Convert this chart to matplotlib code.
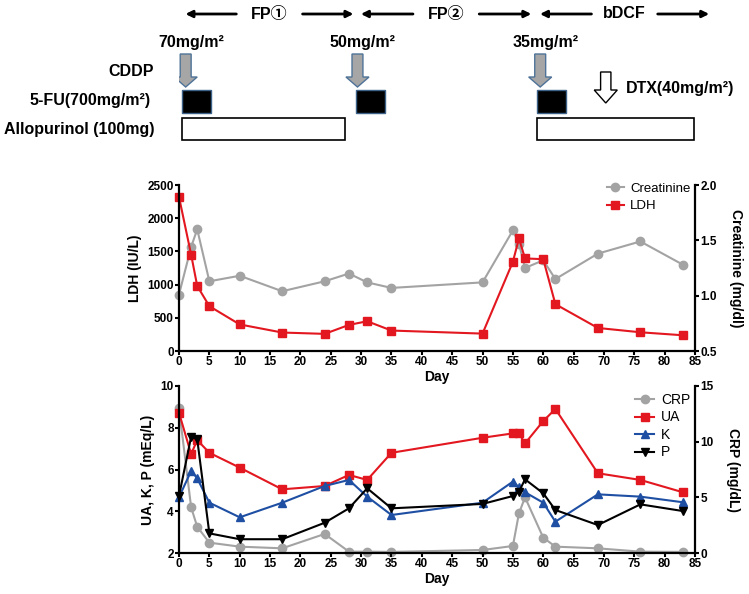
import matplotlib
matplotlib.use("Agg")
import matplotlib.pyplot as plt
import matplotlib.patches as patches
from matplotlib.lines import Line2D

plt.rcParams['font.family'] = ['Liberation Sans', 'Noto Sans CJK JP', 'DejaVu Sans']

# ---- data ----
ldh_days = [0, 2, 3, 5, 10, 17, 24, 28, 31, 35, 50, 55, 56, 57, 60, 62, 69, 76, 83]
ldh = [2320, 1450, 980, 675, 400, 278, 258, 393, 448, 308, 262, 1343, 1696, 1394, 1383, 705, 347, 282, 237]

cre_days = [0, 2, 3, 5, 10, 17, 24, 28, 31, 35, 50, 55, 56, 57, 60, 62, 69, 76, 83]
cre = [1.01, 1.44, 1.60, 1.13, 1.18, 1.04, 1.13, 1.20, 1.12, 1.07, 1.12, 1.59, 1.47, 1.25, 1.32, 1.15, 1.38, 1.49, 1.28]

lab_days = [0, 2, 3, 5, 10, 17, 24, 28, 31, 35, 50, 55, 56, 57, 60, 62, 69, 76, 83]
ua = [8.72, 6.74, 7.41, 6.80, 6.09, 5.05, 5.21, 5.74, 5.50, 6.80, 7.52, 7.73, 7.73, 7.25, 8.32, 8.90, 5.82, 5.50, 4.91]
k = [4.67, 5.93, 5.58, 4.41, 3.71, 4.41, 5.21, 5.50, 4.70, 3.82, 4.41, 5.42, 5.15, 4.91, 4.41, 3.50, 4.81, 4.70, 4.43]
p = [4.73, 7.57, 7.45, 2.94, 2.66, 2.66, 3.45, 4.14, 5.10, 4.14, 4.35, 4.73, 4.94, 5.53, 4.86, 4.06, 3.34, 4.33, 4.01]
crp = [13.0, 4.10, 2.36, 0.93, 0.57, 0.42, 1.71, 0.12, 0.12, 0.10, 0.27, 0.63, 3.56, 5.0, 1.38, 0.57, 0.42, 0.12, 0.10]

# treatment schedule (days)
phases = ['FP①', 'FP②', 'bDCF']
phase_spans = [(0.6, 29.2), (29.5, 58.5), (59.0, 87.8)]
cddp_days = [1.1, 29.4, 59.5]
cddp_doses = ['70mg/m²', '50mg/m²', '35mg/m²']
fu_starts = [0.45, 29.2, 59.0]
fu_len = 4.8
allo_spans = [(0.45, 27.4), (59.0, 84.8)]
dtx_day = 70.3

RED = '#e3171f'
BLUE = '#1f4fa3'
GRAY = '#a3a3a3'
W, H = 749, 594

fig = plt.figure(figsize=(W / 100, H / 100), dpi=100)


def ax_rect(x0, y0, x1, y1):
    return [x0 / W, 1 - y1 / H, (x1 - x0) / W, (y1 - y0) / H]


def style_axes(ax, ax2):
    for a in (ax, ax2):
        a.spines['top'].set_visible(False)
        for s in a.spines.values():
            s.set_linewidth(1.6)
        a.tick_params(direction='out', width=1.5, length=3, labelsize=8.5, pad=0.8)
        for lab in a.get_xticklabels() + a.get_yticklabels():
            lab.set_fontweight('bold')
    ax.spines['right'].set_visible(False)
    ax2.spines['left'].set_visible(False)
    ax2.spines['bottom'].set_visible(False)
    ax.set_xlim(0, 85)
    ax.set_xticks(range(0, 86, 5))
    ax.set_xlabel('Day', fontsize=10, fontweight='bold', labelpad=1)


# ---- schematic ----
sch = fig.add_axes(ax_rect(179, 0, 695, 150))
sch.set_xlim(0, 85)
sch.set_ylim(150, 0)
sch.axis('off')
fs = 11.5
for name, (a, b) in zip(phases, phase_spans):
    mid = (a + b) / 2
    sch.text(mid, 14, name, ha='center', va='center', fontsize=fs, fontweight='bold')
    gap = 5
    sch.annotate('', xy=(a, 14), xytext=(mid - gap, 14),
                 arrowprops=dict(arrowstyle='-|>', color='black', lw=2, mutation_scale=10),
                 annotation_clip=False)
    sch.annotate('', xy=(b, 14), xytext=(mid + gap, 14),
                 arrowprops=dict(arrowstyle='-|>', color='black', lw=2, mutation_scale=10),
                 annotation_clip=False)

for d, dose in zip(cddp_days, cddp_doses):
    sch.text(d + 0.9, 42, dose, ha='center', va='center', fontsize=fs, fontweight='bold')
    arr = patches.FancyArrow(d, 54, 0, 33, width=1.8, head_width=3.8, head_length=10,
                             length_includes_head=True, facecolor='#a6a6a6',
                             edgecolor='#4f7398', lw=1)
    sch.add_patch(arr)

for s in fu_starts:
    sch.add_patch(patches.Rectangle((s, 90), fu_len, 23, facecolor='black',
                                    edgecolor='#3d6188', lw=1))
for a, b in allo_spans:
    sch.add_patch(patches.Rectangle((a, 117.5), b - a, 22, facecolor='white',
                                    edgecolor='black', lw=1.2))

dtx = patches.FancyArrow(dtx_day, 72, 0, 31, width=1.7, head_width=3.8, head_length=13,
                         length_includes_head=True, facecolor='white', edgecolor='black', lw=1)
sch.add_patch(dtx)
sch.text(dtx_day + 3.3, 88, 'DTX(40mg/m²)', ha='left', va='center', fontsize=fs,
         fontweight='bold', clip_on=False)

sch.text(-4.1, 72, 'CDDP', ha='right', va='center', fontsize=fs, fontweight='bold', clip_on=False)
sch.text(-4.6, 100, '5-FU(700mg/m²)', ha='right', va='center', fontsize=fs, fontweight='bold', clip_on=False)
sch.text(-4.0, 129, 'Allopurinol (100mg)', ha='right', va='center', fontsize=fs, fontweight='bold', clip_on=False)

# ---- upper chart: LDH / creatinine ----
ax1 = fig.add_axes(ax_rect(179, 185, 695, 351))
ax1r = ax1.twinx()
ax1.set_zorder(ax1r.get_zorder() + 1)
ax1.patch.set_visible(False)
ax1r.plot(cre_days, cre, '-o', color=GRAY, lw=1.5, ms=6, clip_on=False)
ax1.plot(ldh_days, ldh, '-s', color=RED, lw=1.5, ms=6, clip_on=False)
ax1.set_ylim(0, 2500)
ax1.set_yticks(range(0, 2501, 500))
ax1r.set_ylim(0.5, 2.0)
ax1r.set_yticks([0.5, 1.0, 1.5, 2.0])
ax1.set_ylabel('LDH (IU/L)', fontsize=10, fontweight='bold', labelpad=4)
ax1r.set_ylabel('Creatinine (mg/dl)', fontsize=10, fontweight='bold', rotation=270, labelpad=19)
style_axes(ax1, ax1r)
h1 = [Line2D([], [], color=GRAY, marker='o', lw=1.5, ms=6),
      Line2D([], [], color=RED, marker='s', lw=1.5, ms=6)]
ax1.legend(h1, ['Creatinine', 'LDH'], loc='upper left', bbox_to_anchor=(600 / W, 1 - 176 / H),
           bbox_transform=fig.transFigure, frameon=False, fontsize=9.5, handlelength=1.3,
           handletextpad=0.5, borderpad=0, labelspacing=0.4)

# ---- lower chart: UA, K, P / CRP ----
ax2 = fig.add_axes(ax_rect(179, 386, 695, 553))
ax2r = ax2.twinx()
ax2.set_zorder(ax2r.get_zorder() + 1)
ax2.patch.set_visible(False)
ax2r.plot(lab_days, crp, '-o', color=GRAY, lw=1.5, ms=6, clip_on=False)
ax2.plot(lab_days, ua, '-s', color=RED, lw=1.5, ms=6, clip_on=False)
ax2.plot(lab_days, k, '-^', color=BLUE, lw=1.5, ms=6, clip_on=False)
ax2.plot(lab_days, p, '-v', color='black', lw=1.5, ms=6, clip_on=False)
ax2.set_ylim(2, 10)
ax2.set_yticks([2, 4, 6, 8, 10])
ax2r.set_ylim(0, 15)
ax2r.set_yticks([0, 5, 10, 15])
ax2.set_ylabel('UA, K, P (mEq/L)', fontsize=10, fontweight='bold', labelpad=4)
ax2r.set_ylabel('CRP (mg/dL)', fontsize=10, fontweight='bold', rotation=270, labelpad=19)
style_axes(ax2, ax2r)
h2 = [Line2D([], [], color=GRAY, marker='o', lw=1.5, ms=6),
      Line2D([], [], color=RED, marker='s', lw=1.5, ms=6),
      Line2D([], [], color=BLUE, marker='^', lw=1.5, ms=6),
      Line2D([], [], color='black', marker='v', lw=1.5, ms=6)]
ax2.legend(h2, ['CRP', 'UA', 'K', 'P'], loc='upper left', bbox_to_anchor=(628 / W, 1 - 386 / H),
           bbox_transform=fig.transFigure, frameon=False, fontsize=10, handlelength=1.4,
           handletextpad=0.5, borderpad=0, labelspacing=0.25)

fig.savefig('out.png', dpi=100)
